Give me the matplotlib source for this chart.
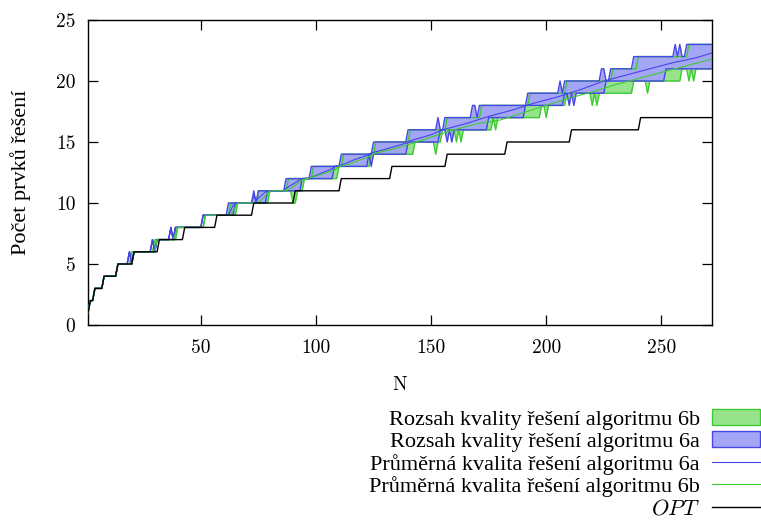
import numpy as np
import matplotlib.pyplot as plt
from matplotlib.patches import Patch
from matplotlib.lines import Line2D

plt.rcParams['mathtext.fontset'] = 'cm'

# x axis: instance size
N = np.arange(1, 273)

# OPT: level and the N where it starts
opt_level = [1, 2, 3, 4, 5, 6, 7, 8, 9, 10, 11, 12, 13, 14, 15, 16, 17]
opt_start = [1, 2, 4, 8, 14, 21, 32, 43, 57, 73, 91, 111, 133, 157, 183, 211, 241]

# algorithm 6a range (upper / lower edge), level -> start N
a_max_level = list(range(1, 24))
a_max_start = [1, 2, 4, 8, 14, 19, 29, 37, 51, 62, 73, 87, 98, 111, 125, 140,
               156, 168, 192, 208, 228, 238, 261]
a_min_level = list(range(1, 22))
a_min_start = [1, 2, 4, 8, 14, 19, 29, 37, 51, 65, 79, 94, 108, 123, 140, 154,
               175, 191, 208, 226, 252]
a_max_fix = {20: 5, 30: 6, 38: 7, 74: 10, 153: 17, 170: 17, 206: 20,
             224: 21, 225: 21, 256: 23, 258: 23}
a_min_fix = {20: 5, 30: 6, 38: 7, 124: 13, 157: 15, 159: 15, 210: 18, 212: 18}

# algorithm 6b range
b_max_level = list(range(1, 24))
b_max_start = [1, 2, 4, 8, 14, 20, 30, 39, 52, 63, 75, 88, 99, 112, 126, 141,
               157, 172, 193, 209, 229, 240, 262]
b_min_level = list(range(1, 22))
b_min_start = [1, 2, 4, 8, 14, 21, 31, 40, 52, 66, 80, 95, 110, 124, 143, 155,
               176, 198, 209, 238, 259]
b_max_fix = {268: 23, 270: 23}
b_min_fix = {90: 10, 91: 10, 152: 14, 161: 15, 163: 15, 176: 16, 178: 16,
             200: 17, 220: 18, 222: 18, 244: 19, 262: 20, 264: 20}

# average quality (sampled)
a_mean_n = [1, 2, 3, 4, 7, 8, 13, 14, 18, 19, 20, 21, 28, 29, 30, 31, 36, 37, 38,
            39, 50, 51, 62, 64, 65, 72, 73, 74, 75, 78, 79, 86, 87, 93, 94, 98,
            103, 107, 108, 111, 116, 122, 124, 130, 139, 141, 150, 155, 165, 175,
            185, 195, 205, 215, 225, 235, 245, 255, 265, 272]
a_mean_v = [1, 2, 2, 3, 3, 4, 4, 5, 5, 6, 5, 6, 6, 7, 6, 7, 7, 8, 7,
            8, 8, 9, 9, 9.8, 10, 10, 10.6, 10.2, 10.4, 10.9, 11, 11, 11.2, 11.9, 12, 12.1,
            12.5, 12.8, 13, 13.1, 13.5, 13.9, 14.1, 14.4, 14.9, 15.1, 15.6, 16, 16.5, 17.1,
            17.6, 18.2, 18.7, 19.3, 20.0, 20.5, 21.0, 21.5, 21.9, 22.3]
b_mean_n = [1, 2, 3, 4, 7, 8, 13, 14, 20, 21, 30, 31, 38, 40, 51, 52, 63, 66, 74,
            76, 80, 87, 90, 94, 96, 100, 108, 110, 113, 123, 126, 133, 142, 150,
            160, 170, 180, 190, 200, 210, 220, 230, 240, 250, 260, 272]
b_mean_v = [1, 2, 2, 3, 3, 4, 4, 5, 5, 6, 6, 7, 7, 8, 8, 9, 9, 10, 10,
            10.2, 11, 11, 11.3, 11.9, 12, 12.2, 12.7, 13, 13.1, 13.8, 14.1, 14.4, 14.9, 15.4,
            16, 16.5, 16.8, 17.4, 18, 18.6, 19.1, 19.7, 20.2, 20.7, 21.2, 21.8]


def steps(levels, starts, fix=None):
    idx = np.searchsorted(starts, N, side='right') - 1
    vals = np.array(levels, dtype=float)[idx]
    for n, v in (fix or {}).items():
        vals[n - 1] = v
    return vals


opt = steps(opt_level, opt_start)
a_max = steps(a_max_level, a_max_start, a_max_fix)
a_min = steps(a_min_level, a_min_start, a_min_fix)
b_max = steps(b_max_level, b_max_start, b_max_fix)
b_min = steps(b_min_level, b_min_start, b_min_fix)

blue_fill = '#a5a5f5'
blue_line = '#4646e6'
green_fill = '#96e38c'
green_line = '#3ccc32'

fig = plt.figure(figsize=(7.61, 5.21), dpi=100)
ax = fig.add_axes([88 / 761, 196 / 521, 624 / 761, 305 / 521])

ax.fill_between(N, b_min, b_max, color=green_fill, lw=0, zorder=1)
ax.fill_between(N, a_min, a_max, color=blue_fill, lw=0, zorder=2)
ax.plot(N, b_min, color=green_line, lw=1.0, zorder=3)
ax.plot(N, b_max, color=green_line, lw=1.0, zorder=3)
ax.plot(N, a_min, color=blue_line, lw=1.0, zorder=4)
ax.plot(N, a_max, color=blue_line, lw=1.0, zorder=4)
ax.plot(a_mean_n, a_mean_v, color=blue_line, lw=0.8, zorder=5)
ax.plot(b_mean_n, b_mean_v, color=green_line, lw=0.8, zorder=5)
ax.plot(N, opt, color='black', lw=1.0, zorder=6)

ax.set_xlim(1, 272)
ax.set_ylim(0, 25)
xt = [50, 100, 150, 200, 250]
yt = [0, 5, 10, 15, 20, 25]
ax.set_xticks(xt, [str(t) for t in xt], fontfamily='cmr10', fontsize=14)
ax.set_yticks(yt, [str(t) for t in yt], fontfamily='cmr10', fontsize=14)
ax.tick_params(direction='in', length=7, width=0.9, top=True, right=True)
ax.tick_params(axis='x', pad=10)
ax.tick_params(axis='y', pad=9)
for s in ax.spines.values():
    s.set_linewidth(1.0)

ax.set_xlabel('N', fontfamily='cmr10', fontsize=14, labelpad=14)
ax.set_ylabel('Počet prvků řešení', fontfamily='Liberation Serif', fontsize=16, labelpad=18)

handles = [
    Patch(facecolor=green_fill, edgecolor=green_line, lw=1.0),
    Patch(facecolor=blue_fill, edgecolor=blue_line, lw=1.0),
    Line2D([], [], color=blue_line, lw=0.8),
    Line2D([], [], color=green_line, lw=0.8),
    Line2D([], [], color='black', lw=1.0),
]
labels = [
    'Rozsah kvality řešení algoritmu 6b',
    'Rozsah kvality řešení algoritmu 6a',
    'Průměrná kvalita řešení algoritmu 6a',
    'Průměrná kvalita řešení algoritmu 6b',
    '$OPT$',
]
leg = fig.legend(handles, labels, loc='upper right', bbox_to_anchor=(760 / 761, 112 / 521),
                 frameon=False, markerfirst=False, borderpad=0, borderaxespad=0,
                 handlelength=2.15, handletextpad=0.55, labelspacing=0.08,
                 prop={'family': 'Liberation Serif', 'size': 16})

fig.savefig('out.png', dpi=100)
